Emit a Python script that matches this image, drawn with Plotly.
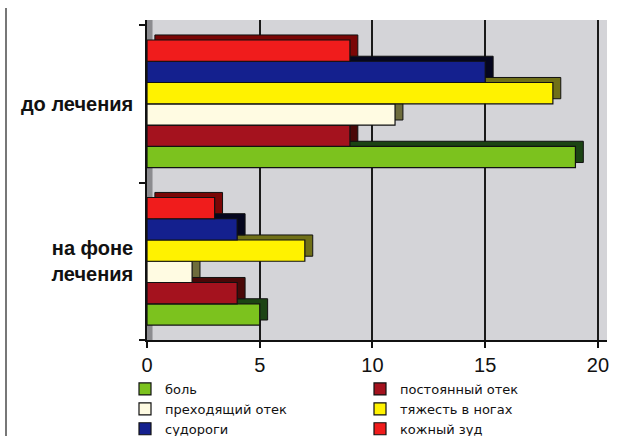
import plotly.graph_objects as go

categories = ["на фоне лечения", "до лечения"]
category_labels = ["<b>на фоне<br>лечения</b>", "<b>до лечения</b>"]

series_names = ["боль", "постоянный отек", "преходящий отек",
                "тяжесть в ногах", "судороги", "кожный зуд"]
# values: [на фоне лечения, до лечения]
values = {
    "боль": [5, 19],
    "постоянный отек": [4, 9],
    "преходящий отек": [2, 11],
    "тяжесть в ногах": [7, 18],
    "судороги": [4, 15],
    "кожный зуд": [3, 9],
}
face_colors = ["#7cc21e", "#a4121e", "#fffbe2", "#fff200", "#14208e", "#f01c1c"]
side_colors = ["#1c4414", "#4a0808", "#6e6c3c", "#707018", "#05061e", "#7a0606"]

x_ticks = [0, 5, 10, 15, 20]

bar_w = 0.135
depth_x = 0.35
depth_y = 0.032
n = len(series_names)
ypos = list(range(len(categories)))

fig = go.Figure()
for i, name in enumerate(series_names):
    off = -bar_w * n / 2 + i * bar_w
    # 3D depth (top + side face)
    fig.add_trace(go.Bar(
        y=ypos, x=values[name], base=depth_x, orientation="h",
        width=bar_w, offset=off + depth_y,
        marker=dict(color=side_colors[i], line=dict(color="#111", width=1)),
        showlegend=False, hoverinfo="skip",
    ))
    fig.add_trace(go.Bar(
        y=ypos, x=values[name], orientation="h", name=name,
        width=bar_w, offset=off,
        marker=dict(color=face_colors[i], line=dict(color="#111", width=1.2)),
    ))

W, H = 624, 436
ml, mr, mt, mb = 147, 17, 20, 96
pw, ph = W - ml - mr, H - mt - mb

def px_x(p):
    return (p - ml) / pw

def px_y(p):
    return (H - mb - p) / ph

fig.update_layout(
    width=W, height=H,
    margin=dict(l=ml, r=mr, t=mt, b=mb, pad=0, autoexpand=False),
    barmode="overlay",
    paper_bgcolor="white",
    plot_bgcolor="#d4d4d8",
    font=dict(family="Liberation Sans, Arial, sans-serif", color="#111"),
    xaxis=dict(
        range=[0, 20.4], tickvals=x_ticks, ticks="outside", ticklen=6,
        tickwidth=1.5, tickcolor="#111", showline=True, linecolor="#111",
        linewidth=1.5, showgrid=True, gridcolor="#1a1a1a", gridwidth=1.5,
        zeroline=False, tickfont=dict(size=20, color="#111"),
    ),
    yaxis=dict(
        range=[-0.5, 1.532], tickvals=ypos, ticktext=category_labels,
        ticks="", showline=True, linecolor="#111", linewidth=1.5,
        showgrid=False, zeroline=False, ticklabelstandoff=8,
        tickfont=dict(size=20, color="#111"),
        minor=dict(ticks="outside", tick0=-0.5, dtick=1, ticklen=6,
                   tickcolor="#111", tickwidth=1.5, showgrid=False),
    ),
    legend=dict(
        orientation="h", x=px_x(125), y=px_y(374), xanchor="left",
        yanchor="top", entrywidth=190, traceorder="normal",
        font=dict(family="DejaVu Sans, sans-serif", size=13, color="#111"),
        bgcolor="rgba(0,0,0,0)", itemwidth=30,
    ),
    shapes=[
        dict(type="line", xref="paper", yref="paper",
             x0=px_x(6), x1=px_x(6), y0=px_y(436), y1=px_y(8),
             line=dict(color="#777", width=2)),
        dict(type="rect", xref="x domain", yref="y domain",
             x0=0, x1=0.012, y0=0, y1=1, fillcolor="#8c8c90",
             line=dict(width=0), layer="below"),
    ],
)

fig.write_html("out.html")
